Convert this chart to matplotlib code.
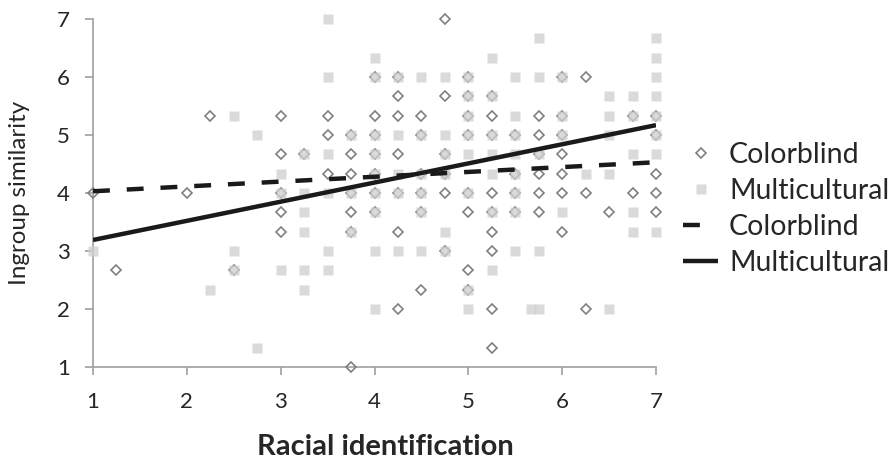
import matplotlib
matplotlib.use("Agg")
import matplotlib.pyplot as plt
from matplotlib.lines import Line2D

plt.rcParams['font.family'] = ['Lato', 'DejaVu Sans']

# ---- data ----
colorblind_x = [4.75,
                4, 4.25, 5, 6, 6.25,
                4.25, 4.75, 5, 5.25,
                2.25, 3, 3.5, 4, 4.25, 4.5, 5, 5.25, 5.75, 6, 6.75, 7,
                3.5, 3.75, 4, 4.5, 5, 5.25, 5.5, 5.75, 6, 7,
                3, 3.25, 3.75, 4, 4.25, 4.75, 5.75, 6,
                3.5, 3.75, 4, 4.5, 4.75, 5.5, 5.75, 6, 7,
                1, 2, 3, 3.75, 4, 4.25, 4.5, 4.75, 5, 5.25, 5.5, 5.75, 6, 6.25, 6.75, 7,
                3, 3.75, 4, 4.5, 5, 5.25, 5.5, 5.75, 6.5, 7,
                3, 3.75, 4.25, 5.25, 6,
                4.75, 5.25,
                1.25, 2.5, 5,
                4.5, 5,
                4.25, 5.25, 6.25,
                5.25,
                3.75]
colorblind_y = [7.0,
                6.0, 6.0, 6.0, 6.0, 6.0,
                5.67, 5.67, 5.67, 5.67,
                5.33, 5.33, 5.33, 5.33, 5.33, 5.33, 5.33, 5.33, 5.33, 5.33, 5.33, 5.33,
                5.0, 5.0, 5.0, 5.0, 5.0, 5.0, 5.0, 5.0, 5.0, 5.0,
                4.67, 4.67, 4.67, 4.67, 4.67, 4.67, 4.67, 4.67,
                4.33, 4.33, 4.33, 4.33, 4.33, 4.33, 4.33, 4.33, 4.33,
                4.0, 4.0, 4.0, 4.0, 4.0, 4.0, 4.0, 4.0, 4.0, 4.0, 4.0, 4.0, 4.0, 4.0, 4.0, 4.0,
                3.67, 3.67, 3.67, 3.67, 3.67, 3.67, 3.67, 3.67, 3.67, 3.67,
                3.33, 3.33, 3.33, 3.33, 3.33,
                3.0, 3.0,
                2.67, 2.67, 2.67,
                2.33, 2.33,
                2.0, 2.0, 2.0,
                1.33,
                1.0]

multicultural_x = [3.5,
                   5.75, 7,
                   4, 5.25, 7,
                   3.5, 4, 4.25, 4.5, 4.75, 5, 5.5, 5.75, 6, 7,
                   5, 5.25, 6.5, 6.75, 7,
                   2.5, 5, 5.5, 6, 6.5, 6.75, 7,
                   2.75, 3.75, 4, 4.25, 4.5, 4.75, 5, 5.25, 5.5, 6, 6.5, 7,
                   3.25, 3.5, 4, 4.75, 5, 5.25, 5.5, 5.75, 6.75, 7,
                   3, 4, 4.25, 4.5, 4.75, 5.25, 5.5, 6.25, 6.5,
                   3, 3.25, 3.5, 3.75, 4, 4.25, 4.5, 5, 5.5,
                   3.25, 4, 4.5, 5.25, 5.5, 6, 6.75,
                   3.25, 3.75, 4.75, 6.75, 7,
                   1, 2.5, 3.5, 4, 4.25, 4.5, 4.75, 5.5, 5.75,
                   2.5, 3, 3.25, 3.5, 5.25,
                   2.25, 3.25, 5,
                   4, 5, 5.67, 5.75, 6.5,
                   2.75]
multicultural_y = [7.0,
                   6.67, 6.67,
                   6.33, 6.33, 6.33,
                   6.0, 6.0, 6.0, 6.0, 6.0, 6.0, 6.0, 6.0, 6.0, 6.0,
                   5.67, 5.67, 5.67, 5.67, 5.67,
                   5.33, 5.33, 5.33, 5.33, 5.33, 5.33, 5.33,
                   5.0, 5.0, 5.0, 5.0, 5.0, 5.0, 5.0, 5.0, 5.0, 5.0, 5.0, 5.0,
                   4.67, 4.67, 4.67, 4.67, 4.67, 4.67, 4.67, 4.67, 4.67, 4.67,
                   4.33, 4.33, 4.33, 4.33, 4.33, 4.33, 4.33, 4.33, 4.33,
                   4.0, 4.0, 4.0, 4.0, 4.0, 4.0, 4.0, 4.0, 4.0,
                   3.67, 3.67, 3.67, 3.67, 3.67, 3.67, 3.67,
                   3.33, 3.33, 3.33, 3.33, 3.33,
                   3.0, 3.0, 3.0, 3.0, 3.0, 3.0, 3.0, 3.0, 3.0,
                   2.67, 2.67, 2.67, 2.67, 2.67,
                   2.33, 2.33, 2.33,
                   2.0, 2.0, 2.0, 2.0, 2.0,
                   1.33]

fit_x = [1, 7]
colorblind_fit = [4.03, 4.53]
multicultural_fit = [3.19, 5.17]

x_ticks = [1, 2, 3, 4, 5, 6, 7]
y_ticks = [1, 2, 3, 4, 5, 6, 7]
labels = ["Colorblind", "Multicultural", "Colorblind", "Multicultural"]
x_label = "Racial identification"
y_label = "Ingroup similarity"

# ---- figure ----
fig = plt.figure(figsize=(8.9, 4.65), dpi=100)
ax = fig.add_axes([93/890, 1-367/465, (656-93)/890, (367-19)/465])

axis_grey = '#a0a0a0'
text_col = '#262626'
diamond_col = '#808080'
square_col = '#d0d0d0'

h1, = ax.plot(colorblind_x, colorblind_y, linestyle='none', marker='D', ms=4.8,
              mfc='none', mec=diamond_col, mew=1.2, clip_on=False, zorder=3)
h2, = ax.plot(multicultural_x, multicultural_y, linestyle='none', marker='s', ms=7.0,
              mfc=square_col, mec='none', alpha=0.78, clip_on=False, zorder=4)
h3, = ax.plot(fit_x, colorblind_fit, color='#1a1a1a', lw=3.2, dashes=(3.8, 3.8),
              dash_capstyle='butt', zorder=5)
h4, = ax.plot(fit_x, multicultural_fit, color='#1a1a1a', lw=3.2,
              solid_capstyle='butt', zorder=5)

ax.set_xlim(1, 7)
ax.set_ylim(1, 7)
ax.set_xticks(x_ticks)
ax.set_yticks(y_ticks)

for side in ['top', 'right']:
    ax.spines[side].set_visible(False)
for side in ['left', 'bottom']:
    ax.spines[side].set_color(axis_grey)
    ax.spines[side].set_linewidth(1.2)

ax.tick_params(axis='both', direction='out', length=5.5, width=1.2, color=axis_grey,
               labelsize=16, labelcolor=text_col)
ax.tick_params(axis='x', pad=12.5)
ax.tick_params(axis='y', pad=11)

ax.set_xlabel(x_label, fontsize=21, fontweight='bold', color=text_col)
ax.xaxis.set_label_coords((385-93)/563, (367-447)/348)
ax.xaxis.label.set_verticalalignment('center')
ax.set_ylabel(y_label, fontsize=17.4, color=text_col)
ax.yaxis.set_label_coords((20-93)/563, 0.5)
ax.yaxis.label.set_verticalalignment('center')

leg_h1 = Line2D([], [], linestyle='none', marker='D', ms=4.8, mfc='none',
                mec=diamond_col, mew=1.2)
leg_h2 = Line2D([], [], linestyle='none', marker='s', ms=7.0, mfc=square_col,
                mec='none', alpha=0.78)
leg_h3 = Line2D([], [], color='#1a1a1a', lw=3.2, dashes=(3.8, 10),
                dash_capstyle='butt')
leg = fig.legend([leg_h1, leg_h2, leg_h3, h4], labels, loc='center left',
                 bbox_to_anchor=(683/890, 1-209/465), frameon=False,
                 fontsize=20.5, handlelength=1.23, handletextpad=0.39,
                 labelspacing=0.36, borderpad=0, borderaxespad=0)
for t in leg.get_texts():
    t.set_color(text_col)

fig.savefig('out.png', dpi=100)
